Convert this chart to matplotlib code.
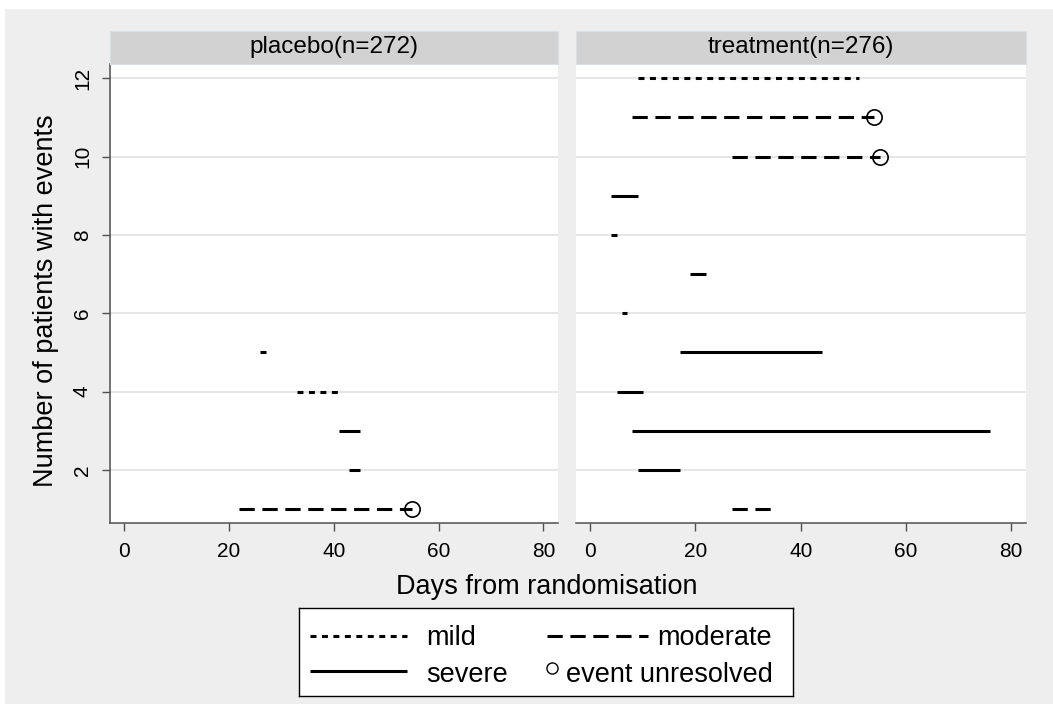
import matplotlib
matplotlib.use("Agg")
import matplotlib.pyplot as plt
from matplotlib.patches import Rectangle
from matplotlib.lines import Line2D

# ---------------- data ----------------
panel_titles = ["placebo(n=272)", "treatment(n=276)"]

placebo_patient = [1, 2, 3, 4, 5]
placebo_start = [22, 43, 41, 33, 26]
placebo_end = [55, 45, 45, 41, 27]
placebo_severity = ["moderate", "severe", "severe", "mild", "severe"]
placebo_unresolved = [True, False, False, False, False]

treatment_patient = [1, 2, 3, 4, 5, 6, 7, 8, 9, 10, 11, 12]
treatment_start = [27, 9, 8, 5, 17, 6, 19, 4, 4, 27, 8, 9]
treatment_end = [35, 17, 76, 10, 44, 7, 22, 5, 9, 55, 54, 51]
treatment_severity = ["moderate", "severe", "severe", "severe", "severe", "severe",
                      "severe", "severe", "severe", "moderate", "moderate", "mild"]
treatment_unresolved = [False, False, False, False, False, False,
                        False, False, False, True, True, False]

x_ticks = [0, 20, 40, 60, 80]
y_ticks = [2, 4, 6, 8, 10, 12]
x_label = "Days from randomisation"
y_label = "Number of patients with events"
legend_labels = ["mild", "moderate", "severe", "event unresolved"]

# ---------------- styling ----------------
plt.rcParams["font.family"] = ["Liberation Sans", "DejaVu Sans"]
W, H = 1053, 704
LW = 2.2
styles = {
    "mild": (0, (1.95, 1.8)),
    "moderate": (0, (5.0, 2.5)),
    "severe": "-",
}
BG = "#EEEEEE"
STRIP = "#D2D2D2"
SPINE = "#505050"
GRID = "#E6E6E6"

fig = plt.figure(figsize=(W / 100, H / 100), dpi=100, facecolor="white")
fig.patches.append(Rectangle((5 / W, 0), 1 - 5 / W, (H - 9) / H,
                             transform=fig.transFigure, facecolor=BG,
                             edgecolor="none", zorder=-10))


def fx(px):
    return px / W


def fy(py):
    return 1 - py / H


ax_top, ax_bot = 63.5, 523
strip_top = 31
panels = [(110, 558), (576, 1026)]
datasets = [
    (placebo_patient, placebo_start, placebo_end, placebo_severity, placebo_unresolved),
    (treatment_patient, treatment_start, treatment_end, treatment_severity, treatment_unresolved),
]

for i, ((x0, x1), data, title) in enumerate(zip(panels, datasets, panel_titles)):
    ax = fig.add_axes([fx(x0), fy(ax_bot), (x1 - x0) / W, (ax_bot - ax_top) / H])
    ax.set_facecolor("white")
    pat, st, en, sev, unres = data
    for p, s, e, v, u in zip(pat, st, en, sev, unres):
        ax.plot([s, e], [p, p], color="black", lw=LW, linestyle=styles[v],
                solid_capstyle="butt", dash_capstyle="butt", zorder=3)
        if u:
            ax.plot([e], [p], marker="o", markersize=11, mfc="none",
                    mec="black", mew=1.2, linestyle="none", zorder=4)
    ax.set_xlim(-2.7, 82.8)
    ax.set_ylim(0.647, 12.378)
    ax.set_xticks(x_ticks)
    ax.set_yticks(y_ticks)
    ax.grid(axis="y", color=GRID, lw=1.4, zorder=0)
    ax.set_axisbelow(True)
    for sp in ["top", "right"]:
        ax.spines[sp].set_visible(False)
    ax.spines["bottom"].set_color(SPINE)
    ax.spines["bottom"].set_linewidth(1.1)
    ax.tick_params(axis="x", direction="out", length=6, width=1.0, color=SPINE,
                   labelsize=15, pad=7.5, labelcolor="black")
    if i == 0:
        ax.spines["left"].set_color(SPINE)
        ax.spines["left"].set_linewidth(1.1)
        ax.tick_params(axis="y", direction="out", length=6, width=1.0, color=SPINE,
                       labelsize=15, pad=7, labelcolor="black")
        for lab in ax.get_yticklabels():
            lab.set_rotation(90)
            lab.set_va("center")
            lab.set_ha("right")
    else:
        ax.spines["left"].set_visible(False)
        ax.tick_params(axis="y", left=False, labelleft=False)

    # strip
    sax = fig.add_axes([fx(x0), fy(ax_top), (x1 - x0) / W, (ax_top - strip_top) / H])
    sax.set_facecolor(STRIP)
    sax.set_xticks([])
    sax.set_yticks([])
    for sp in sax.spines.values():
        sp.set_color("#D5E0E8")
        sp.set_linewidth(0.8)
    sax.text(0.5, 0.5, title, ha="center", va="center", fontsize=17.5,
             transform=sax.transAxes)

# axis titles
fig.text(fx(546.7), fy(594), x_label, ha="center", va="baseline", fontsize=19.5)
fig.text(fx(46), fy(300.8), y_label, ha="center", va="center", rotation=90,
         fontsize=19.5)

# legend box (drawn in its own pixel-coordinate axes)
lx0, ly0, lx1, ly1 = 299, 608, 793, 696
lax = fig.add_axes([fx(lx0), fy(ly1), (lx1 - lx0) / W, (ly1 - ly0) / H])
lax.set_xlim(0, lx1 - lx0)
lax.set_ylim(ly1 - ly0, 0)
lax.set_facecolor("white")
lax.set_xticks([])
lax.set_yticks([])
for sp in lax.spines.values():
    sp.set_color("black")
    sp.set_linewidth(1.0)

lax.add_line(Line2D([11, 108], [28, 28], color="black", lw=LW,
                    linestyle=styles["mild"], dash_capstyle="butt"))
lax.text(127, 37, legend_labels[0], fontsize=19.5, va="baseline", ha="left")
lax.add_line(Line2D([248, 349], [28, 28], color="black", lw=LW,
                    linestyle=styles["moderate"], dash_capstyle="butt"))
lax.text(358, 37, legend_labels[1], fontsize=19.5, va="baseline", ha="left")
lax.add_line(Line2D([11, 108], [62.7, 62.7], color="black", lw=LW,
                    linestyle=styles["severe"], solid_capstyle="butt"))
lax.text(127, 73.5, legend_labels[2], fontsize=19.5, va="baseline", ha="left")
lax.add_line(Line2D([252.7], [60], marker="o", markersize=8, mfc="none",
                    mec="black", mew=1.0, linestyle="none"))
lax.text(267, 73.5, legend_labels[3], fontsize=19.5, va="baseline", ha="left")

fig.savefig("out.png", dpi=100, facecolor=fig.get_facecolor())
